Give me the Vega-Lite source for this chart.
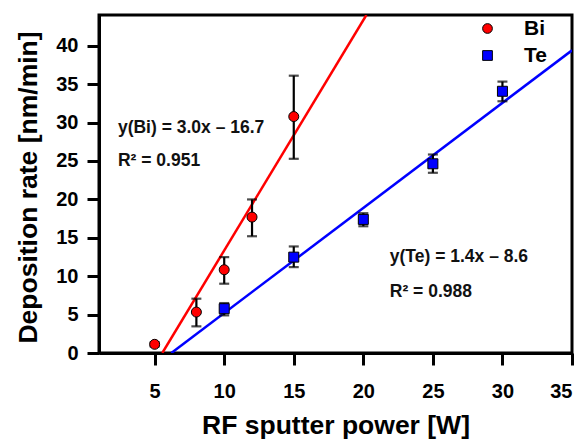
{
  "$schema": "https://vega.github.io/schema/vega-lite/v6.json",
  "width": 473,
  "height": 338,
  "autosize": {"type": "none"},
  "padding": {"left": 99, "top": 15, "right": 12, "bottom": 88},
  "background": "white",
  "config": {
    "view": {"stroke": "black", "strokeWidth": 3},
    "font": "Liberation Sans",
    "axis": {
      "grid": false,
      "domainColor": "black",
      "domainWidth": 3,
      "tickColor": "black",
      "tickWidth": 3,
      "tickSize": 12,
      "labelFont": "Liberation Sans",
      "labelFontWeight": "bold",
      "labelFontSize": 20,
      "labelColor": "black",
      "titleFont": "Liberation Sans",
      "titleFontWeight": "bold",
      "titleFontSize": 26.5,
      "titleColor": "black"
    }
  },
  "datasets": {
    "points": [
      {"metal": "Bi", "power": 5, "rate": 1.13, "lo": 0.85, "hi": 1.4},
      {"metal": "Bi", "power": 8, "rate": 5.33, "lo": 3.47, "hi": 7.07},
      {"metal": "Bi", "power": 10, "rate": 10.84, "lo": 9.02, "hi": 12.48},
      {"metal": "Bi", "power": 12, "rate": 17.69, "lo": 15.2, "hi": 19.99},
      {"metal": "Bi", "power": 15, "rate": 30.78, "lo": 25.28, "hi": 36.1},
      {"metal": "Te", "power": 10, "rate": 5.77, "lo": 4.9, "hi": 6.5},
      {"metal": "Te", "power": 15, "rate": 12.48, "lo": 11.18, "hi": 13.87},
      {"metal": "Te", "power": 20, "rate": 17.39, "lo": 16.5, "hi": 18.2},
      {"metal": "Te", "power": 25, "rate": 24.63, "lo": 23.46, "hi": 25.84},
      {"metal": "Te", "power": 30, "rate": 34.07, "lo": 32.77, "hi": 35.33}
    ],
    "fits": [
      {"metal": "Bi", "power": 5.55, "rate": 0},
      {"metal": "Bi", "power": 20.22, "rate": 44},
      {"metal": "Te", "power": 6.2, "rate": 0},
      {"metal": "Te", "power": 35, "rate": 39.4}
    ],
    "notes": [
      {"power": 2.36, "rate": 29.35, "label": "y(Bi) = 3.0x – 16.7"},
      {"power": 2.36, "rate": 25.05, "label": "R² = 0.951"},
      {"power": 21.9, "rate": 12.44, "label": "y(Te) = 1.4x – 8.6"},
      {"power": 21.9, "rate": 7.89, "label": "R² = 0.988"}
    ]
  },
  "layer": [
    {
      "data": {"name": "fits"},
      "transform": [{"filter": "datum.metal === 'Bi'"}],
      "mark": {"type": "line", "color": "#ff0000", "strokeWidth": 2.5, "clip": true},
      "encoding": {
        "x": {"field": "power", "type": "quantitative", "scale": {"domain": [1, 35], "nice": false},
          "axis": {"values": [5, 10, 15, 20, 25, 30, 35], "title": "RF sputter power [W]",
            "labelBaseline": "alphabetic", "labelPadding": 32, "titleBaseline": "alphabetic", "titleY": 80,
            "encode": {"ticks": {"update": {"strokeWidth": {"value": 3}}}, "domain": {"update": {"strokeWidth": {"value": 3}}}}}},
        "y": {"field": "rate", "type": "quantitative", "scale": {"domain": [0, 44], "nice": false},
          "axis": {"values": [0, 5, 10, 15, 20, 25, 30, 35, 40], "title": "Deposition rate [nm/min]",
            "labelPadding": 9, "titleBaseline": "alphabetic", "titleX": -63, "titleY": 172, "titleAngle": -90, "titleAlign": "center",
            "encode": {"ticks": {"update": {"strokeWidth": {"value": 3}}}, "domain": {"update": {"strokeWidth": {"value": 3}}}}}}
      }
    },
    {
      "data": {"name": "fits"},
      "transform": [{"filter": "datum.metal === 'Te'"}],
      "mark": {"type": "line", "color": "#0000ff", "strokeWidth": 2.5, "clip": true},
      "encoding": {
        "x": {"field": "power", "type": "quantitative"},
        "y": {"field": "rate", "type": "quantitative"}
      }
    },
    {
      "data": {"name": "points"},
      "mark": {"type": "errorbar", "color": "black", "ticks": {"size": 10, "thickness": 2.2, "color": "black"}, "rule": {"strokeWidth": 2.2, "color": "black"}},
      "encoding": {
        "x": {"field": "power", "type": "quantitative", "title": "RF sputter power [W]"},
        "y": {"field": "lo", "type": "quantitative", "title": "Deposition rate [nm/min]"},
        "y2": {"field": "hi"}
      }
    },
    {
      "data": {"name": "points"},
      "mark": {"type": "point", "filled": true, "opacity": 1, "stroke": "black", "strokeWidth": 1},
      "encoding": {
        "x": {"field": "power", "type": "quantitative", "title": "RF sputter power [W]"},
        "y": {"field": "rate", "type": "quantitative", "title": "Deposition rate [nm/min]"},
        "color": {"field": "metal", "type": "nominal", "scale": {"domain": ["Bi", "Te"], "range": ["#ff0000", "#0000ff"]},
          "legend": {"title": null, "orient": "none", "legendX": 378, "legendY": 3, "labelFontSize": 21, "labelFontWeight": "bold", "labelFont": "Liberation Sans", "labelColor": "black", "labelOffset": 26, "rowPadding": 5, "symbolSize": 95, "symbolStrokeColor": "black", "symbolStrokeWidth": 1}},
        "shape": {"field": "metal", "type": "nominal", "scale": {"domain": ["Bi", "Te"], "range": ["circle", "square"]}},
        "size": {"value": 100}
      }
    },
    {
      "data": {"name": "notes"},
      "mark": {"type": "text", "align": "left", "baseline": "middle", "fontSize": 17.5, "fontWeight": "bold", "font": "Liberation Sans", "color": "#111111"},
      "encoding": {
        "x": {"field": "power", "type": "quantitative"},
        "y": {"field": "rate", "type": "quantitative"},
        "text": {"field": "label"}
      }
    }
  ]
}
